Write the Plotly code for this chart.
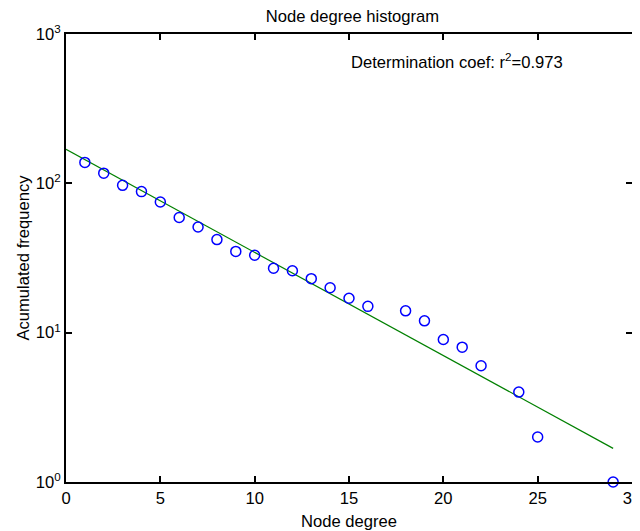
import plotly.graph_objects as go

# Data
degree = [1, 2, 3, 4, 5, 6, 7, 8, 9, 10, 11, 12, 13, 14, 15, 16, 18, 19, 20, 21, 22, 24, 25, 29]
acc_freq = [138, 117, 97, 88, 75, 59, 51, 42, 35, 33, 27, 26, 23, 20, 17, 15, 14, 12, 9, 8, 6, 4, 2, 1]

# Fitted exponential line (endpoints)
fit_x = [0, 29]
fit_y = [169, 1.68]

x_ticks = [0, 5, 10, 15, 20, 25, 30]
y_tickvals = [1, 10, 100, 1000]
y_ticktext = ["10<sup>0</sup>", "10<sup>1</sup>", "10<sup>2</sup>", "10<sup>3</sup>"]

title_text = "Node degree histogram"
x_label = "Node degree"
y_label = "Acumulated frequency"
annot_text = "Determination coef: r<sup>2</sup>=0.973"

FONT = "Liberation Sans, Arial, sans-serif"
FS = 16.6

# The page body adds an 8px offset; the figure is sized to fill the remaining window.
fig = go.Figure()
fig.add_trace(go.Scatter(
    x=fit_x, y=fit_y, mode="lines",
    line=dict(color="#008000", width=1.2),
    showlegend=False, hoverinfo="skip",
))
fig.add_trace(go.Scatter(
    x=degree, y=acc_freq, mode="markers",
    marker=dict(symbol="circle-open", size=10, color="#0000FF", line=dict(width=1.5, color="#0000FF")),
    cliponaxis=False, showlegend=False,
))

fig.update_layout(
    width=632, height=523,
    margin=dict(l=58, r=8, t=26, b=49),
    paper_bgcolor="white", plot_bgcolor="white",
    font=dict(family=FONT, size=FS, color="black"),
    title=dict(text=title_text, x=0.545, xanchor="center", y=0.996, yanchor="top",
               font=dict(size=FS, family=FONT)),
    annotations=[dict(
        text=annot_text, x=15.0, y=2.82, xref="x", yref="y",
        xanchor="left", yanchor="middle", showarrow=False,
        font=dict(size=FS, family=FONT),
    )],
)
fig.update_xaxes(
    range=[0, 30], tickvals=x_ticks, ticks="inside", ticklen=6, tickcolor="black", tickwidth=1.5,
    showline=True, linecolor="black", linewidth=2, mirror="ticks",
    showgrid=False, zeroline=False, automargin=False, ticklabeloverflow="allow",
    title=dict(text=x_label, standoff=14, font=dict(size=FS)),
    tickfont=dict(size=FS),
)
fig.update_yaxes(
    type="log", range=[0, 3], tickvals=y_tickvals, ticktext=y_ticktext,
    ticks="inside", ticklen=6, tickcolor="black", tickwidth=1.5,
    showline=True, linecolor="black", linewidth=2, mirror="ticks",
    showgrid=False, zeroline=False, automargin=False,
    title=dict(text=y_label, standoff=2, font=dict(size=FS)),
    tickfont=dict(size=FS),
)

fig.write_html("out.html")
